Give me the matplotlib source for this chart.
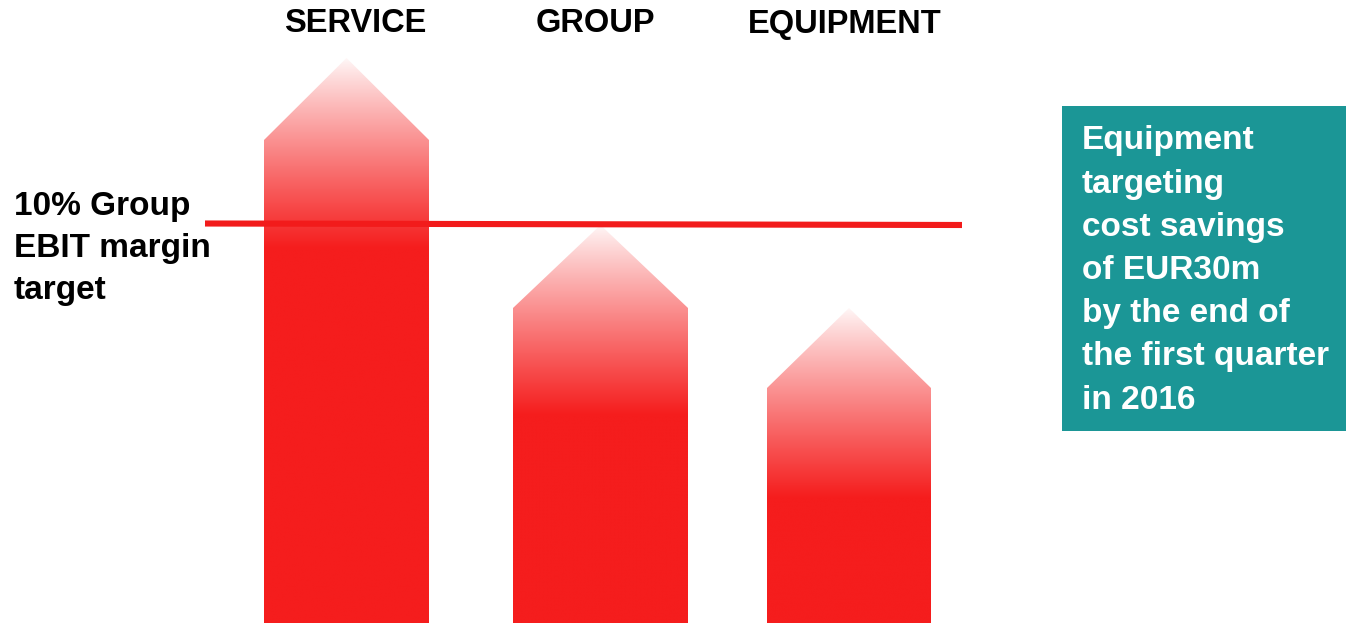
import numpy as np
import matplotlib
matplotlib.use("Agg")
import matplotlib.pyplot as plt
from matplotlib.patches import Polygon, Rectangle

# Segment arrows: label, centre position, width, shoulder height and tip height
categories = ["SERVICE", "GROUP", "EQUIPMENT"]
label_x = [355, 595, 845]
centers = [346.5, 600.5, 849.0]
widths = [165, 175, 164]
shoulders = [483, 315, 235]
tips = [565, 398, 315]
target_level = 399.5
target_lines = ["10% Group", "EBIT margin", "target"]
note_lines = ["Equipment", "targeting", "cost savings", "of EUR30m",
              "by the end of", "the first quarter", "in 2016"]

W, H = 1346, 623
RED = np.array([0xF5, 0x1D, 0x1D]) / 255.0
TEAL = "#1B9696"
fade_len = 190
SANS = ["Liberation Sans", "DejaVu Sans"]

fig = plt.figure(figsize=(W / 100, H / 100), dpi=100)
ax = fig.add_axes([0, 0, 1, 1])
ax.set_xlim(0, W)
ax.set_ylim(0, H)
ax.axis("off")

for cx, w, sh, tp in zip(centers, widths, shoulders, tips):
    x0, x1 = cx - w / 2, cx + w / 2
    verts = [(x0, 0), (x1, 0), (x1, sh), (cx, tp), (x0, sh)]
    poly = Polygon(verts, closed=True, facecolor="none", edgecolor="none")
    ax.add_patch(poly)
    ys = np.linspace(0, tp, 400)
    t = np.clip((tp - ys) / fade_len, 0, 1) ** 0.9
    white = np.array([1.0, 0.97, 0.97])
    cols = white[None, :] * (1 - t[:, None]) + RED[None, :] * t[:, None]
    img = np.repeat(cols[:, None, :], 2, axis=1)
    im = ax.imshow(img, extent=(x0, x1, 0, tp), origin="lower",
                   aspect="auto", interpolation="bilinear", zorder=2)
    im.set_clip_path(poly)

# Group EBIT margin target line
ax.plot([205, 962], [target_level, target_level - 1.5], color="#F21B1B",
        lw=4.4, solid_capstyle="butt", zorder=3)

for lx, lab in zip(label_x, categories):
    ax.text(lx, H - 24, lab, ha="center", va="center", family=SANS,
            fontweight="bold", fontsize=23.5, color="black")

for i, line in enumerate(target_lines):
    ax.text(14, H - (206 + 42.5 * i), line, ha="left", va="center",
            family=SANS, fontweight="bold", fontsize=24, color="black")

ax.add_patch(Rectangle((1062, H - 431), 300, 325, facecolor=TEAL,
                       edgecolor="none", zorder=1))
for i, line in enumerate(note_lines):
    ax.text(1082, H - (141 + 43.2 * i), line, ha="left", va="center",
            family=SANS, fontweight="bold", fontsize=24, color="white",
            zorder=4)

fig.savefig("out.png", dpi=100, facecolor="white")
